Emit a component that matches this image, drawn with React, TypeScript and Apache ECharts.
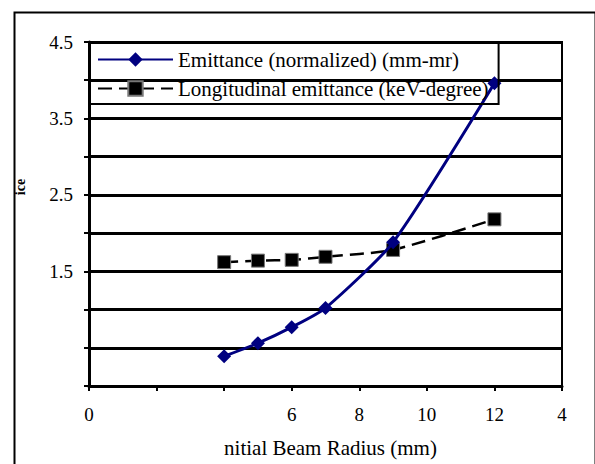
import React, { useEffect, useRef } from "react";
import * as echarts from "echarts";

const radii = [4, 5, 6, 7, 9, 12];
const emittanceNormalized = [0.39, 0.56, 0.77, 1.02, 1.88, 3.96];
const longitudinalEmittance = [1.62, 1.64, 1.65, 1.69, 1.78, 2.18];
const xTickValues = [0, 2, 4, 6, 8, 10, 12, 14];
const xTickLabels = ["0", "", "", "6", "8", "10", "12", "4"];
const yLabelledTicks = [1.5, 2.5, 3.5, 4.5];
const seriesNames = ["Emittance (normalized) (mm-mr)", "Longitudinal emittance (keV-degree)"];
const xAxisTitle = "nitial Beam Radius (mm)";
const yAxisTitle = "ice";

const FONT = "Liberation Serif";

export default function App() {
  const ref = useRef<HTMLDivElement>(null);
  useEffect(() => {
    if (!ref.current) return;
    const chart = echarts.init(ref.current, undefined, { renderer: "svg" });
    const toPairs = (ys: number[]) => radii.map((x, i) => [x, ys[i]]);
    chart.setOption({
      animation: false,
      backgroundColor: "#fff",
      textStyle: { fontFamily: FONT },
      grid: {
        left: 89,
        right: 33,
        top: 42,
        bottom: 78,
        show: true,
        borderColor: "#000",
        borderWidth: 2,
        backgroundColor: "transparent",
      },
      legend: {
        orient: "vertical",
        left: 89,
        top: 42,
        padding: [7, 10, 5, 8],
        itemGap: 8,
        itemWidth: 75,
        itemHeight: 18,
        borderColor: "#000",
        borderWidth: 2,
        textStyle: { fontFamily: FONT, fontSize: 21, color: "#000" },
        data: seriesNames,
      },
      xAxis: {
        type: "value",
        min: 0,
        max: 14,
        interval: 2,
        name: xAxisTitle,
        nameLocation: "middle",
        nameGap: 51,
        nameTextStyle: { fontFamily: FONT, fontSize: 21, color: "#000", padding: [0, 0, 0, 10] },
        axisLine: { lineStyle: { color: "#000", width: 3 } },
        axisTick: { show: true, length: 5, lineStyle: { color: "#000", width: 2 } },
        axisLabel: {
          fontFamily: FONT,
          fontSize: 19,
          color: "#000",
          margin: 19,
          formatter: (v: number) => {
            const i = xTickValues.findIndex((t) => Math.abs(t - v) < 1e-6);
            return i >= 0 ? xTickLabels[i] : "";
          },
        },
        splitLine: { show: false },
      },
      yAxis: {
        type: "value",
        min: 0,
        max: 4.5,
        interval: 0.5,
        axisLine: { show: true, lineStyle: { color: "#000", width: 3 } },
        axisTick: { show: true, length: 5, lineStyle: { color: "#000", width: 2 } },
        axisLabel: {
          fontFamily: FONT,
          fontSize: 19,
          color: "#000",
          margin: 16,
          formatter: (v: number) =>
            yLabelledTicks.some((t) => Math.abs(t - v) < 1e-6) ? v.toFixed(1) : "",
        },
        splitLine: { show: true, lineStyle: { color: "#000", width: 3 } },
      },
      graphic: [
        {
          type: "rect",
          left: 12,
          top: 10,
          shape: { width: 581, height: 470 },
          style: { fill: "none", stroke: "#000", lineWidth: 2 },
          silent: true,
        },
        {
          type: "text",
          x: 20,
          y: 187,
          rotation: Math.PI / 2,
          style: {
            text: yAxisTitle,
            fontFamily: FONT,
            fontSize: 14,
            fontWeight: "bold",
            fill: "#000",
            align: "center",
            verticalAlign: "middle",
          },
        },
      ],
      series: [
        {
          name: seriesNames[0],
          type: "line",
          data: toPairs(emittanceNormalized),
          smooth: 0.2,
          symbol: "diamond",
          symbolSize: 14,
          color: "#000080",
          lineStyle: { color: "#000080", width: 3 },
          itemStyle: { color: "#000080" },
          z: 3,
        },
        {
          name: seriesNames[1],
          type: "line",
          data: toPairs(longitudinalEmittance),
          smooth: 0.2,
          symbol: "rect",
          symbolSize: 13,
          color: "#000",
          lineStyle: { color: "#000", width: 2.5, type: [14, 7] },
          itemStyle: { color: "#000", borderColor: "#777", borderWidth: 1 },
          z: 2,
        },
      ],
    });
    return () => chart.dispose();
  }, []);
  return (
    <div
      ref={ref}
      style={{ position: "fixed", left: 0, top: 0, width: 595, height: 464, background: "#fff" }}
    />
  );
}
